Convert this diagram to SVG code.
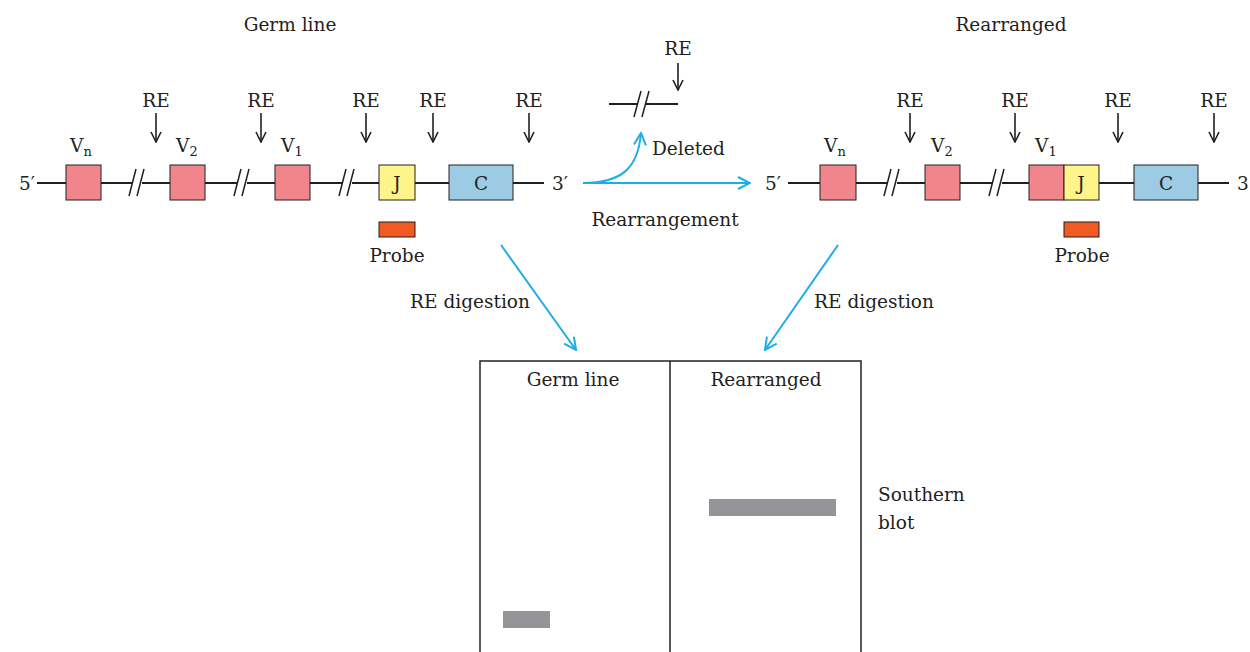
<svg xmlns="http://www.w3.org/2000/svg" width="1250" height="652" viewBox="0 0 1250 652">
  <style>
    text { font-family: "DejaVu Serif", "Liberation Serif", serif; font-size: 18.5px; fill: #231f20; }
    .sub { font-size: 13px; }
    .dna { stroke: #231f20; stroke-width: 2; fill: none; }
    .brk { stroke: #231f20; stroke-width: 1.5; fill: none; }
    .box { stroke: #231f20; stroke-width: 1; }
    .v { fill: #f0868c; }
    .j { fill: #fff48a; }
    .c { fill: #9dcbe3; }
    .probe { fill: #f15a22; stroke: #231f20; stroke-width: 1; }
    .re { stroke: #231f20; stroke-width: 1.6; fill: none; marker-end: url(#blackHead); }
    .blue { stroke: #1eaee6; stroke-width: 2; fill: none; marker-end: url(#blueHead); }
    .band { fill: #939598; }
    .frame { stroke: #231f20; stroke-width: 1.5; fill: none; }
  </style>
  <defs>
    <marker id="blackHead" viewBox="0 0 12 12" refX="11" refY="6" markerWidth="12" markerHeight="12" markerUnits="userSpaceOnUse" orient="auto">
      <path d="M1,1 L11,6 L1,11" fill="none" stroke="#231f20" stroke-width="1.6"/>
    </marker>
    <marker id="blueHead" viewBox="0 0 14 14" refX="13" refY="7" markerWidth="14" markerHeight="14" markerUnits="userSpaceOnUse" orient="auto">
      <path d="M1,1 L13,7 L1,13" fill="none" stroke="#1eaee6" stroke-width="2"/>
    </marker>
  </defs>

  <!-- titles -->
  <text x="290" y="31" text-anchor="middle">Germ line</text>
  <text x="1011" y="31" text-anchor="middle">Rearranged</text>

  <!-- germ-line locus -->
  <g id="germline">
    <text x="19" y="190">5′</text>
    <path class="dna" d="M37,183 H132 M142,183 H237 M247,183 H342 M352,183 H544"/>
    <path class="brk" d="M129,196 L136,169 M137,196 L144,169 M234,196 L241,169 M242,196 L249,169 M339,196 L346,169 M347,196 L354,169"/>
    <g id="g-vn"><rect class="box v" x="66" y="165" width="35" height="35"/><text x="70" y="152">V<tspan class="sub" dy="4">n</tspan></text></g>
    <g id="g-v2"><rect class="box v" x="170" y="165" width="35" height="35"/><text x="176" y="152">V<tspan class="sub" dy="4">2</tspan></text></g>
    <g id="g-v1"><rect class="box v" x="275" y="165" width="35" height="35"/><text x="281" y="152">V<tspan class="sub" dy="4">1</tspan></text></g>
    <g id="g-j"><rect class="box j" x="379" y="165" width="36" height="35"/><text x="397" y="190" text-anchor="middle">J</text></g>
    <g id="g-c"><rect class="box c" x="449" y="165" width="64" height="35"/><text x="481" y="190" text-anchor="middle">C</text></g>
    <text x="552" y="190">3′</text>
    <g id="g-probe"><rect class="probe" x="379" y="222" width="36" height="15"/><text x="397" y="262" text-anchor="middle">Probe</text></g>
    <g id="g-re">
      <text x="156" y="107" text-anchor="middle">RE</text>
      <text x="261" y="107" text-anchor="middle">RE</text>
      <text x="366" y="107" text-anchor="middle">RE</text>
      <text x="433" y="107" text-anchor="middle">RE</text>
      <text x="529" y="107" text-anchor="middle">RE</text>
    </g>
  </g>

  <!-- deleted fragment -->
  <g id="deleted">
    <path class="dna" d="M609,104 H637 M646,104 H678"/>
    <path class="brk" d="M634,117 L641,91 M642,117 L649,91"/>
    <text x="678" y="55" text-anchor="middle">RE</text>
    <text x="652" y="155">Deleted</text>
  </g>

  <text x="665" y="226" text-anchor="middle">Rearrangement</text>

  <!-- rearranged locus -->
  <g id="rearranged">
    <text x="765" y="190">5′</text>
    <path class="dna" d="M788,183 H887 M897,183 H992 M1002,183 H1229"/>
    <path class="brk" d="M884,196 L891,169 M892,196 L899,169 M989,196 L996,169 M997,196 L1004,169"/>
    <g id="r-vn"><rect class="box v" x="820" y="165" width="36" height="35"/><text x="824" y="152">V<tspan class="sub" dy="4">n</tspan></text></g>
    <g id="r-v2"><rect class="box v" x="925" y="165" width="35" height="35"/><text x="931" y="152">V<tspan class="sub" dy="4">2</tspan></text></g>
    <g id="r-v1j">
      <rect class="box v" x="1029" y="165" width="35" height="35"/>
      <rect class="box j" x="1064" y="165" width="35" height="35"/>
      <text x="1035" y="152">V<tspan class="sub" dy="4">1</tspan></text>
      <text x="1081" y="190" text-anchor="middle">J</text>
    </g>
    <g id="r-c"><rect class="box c" x="1134" y="165" width="64" height="35"/><text x="1166" y="190" text-anchor="middle">C</text></g>
    <text x="1237" y="190">3</text>
    <g id="r-probe"><rect class="probe" x="1064" y="222" width="35" height="15"/><text x="1082" y="262" text-anchor="middle">Probe</text></g>
    <g id="r-re">
      <text x="910" y="107" text-anchor="middle">RE</text>
      <text x="1015" y="107" text-anchor="middle">RE</text>
      <text x="1118" y="107" text-anchor="middle">RE</text>
      <text x="1214" y="107" text-anchor="middle">RE</text>
    </g>
  </g>

  <!-- digestion labels -->
  <text x="470" y="308" text-anchor="middle">RE digestion</text>
  <text x="874" y="308" text-anchor="middle">RE digestion</text>

  <!-- Southern blot -->
  <g id="blot">
    <path class="frame" d="M480,662 V361 H861 V662 M670,361 V662"/>
    <text x="573" y="386" text-anchor="middle">Germ line</text>
    <text x="766" y="386" text-anchor="middle">Rearranged</text>
    <rect class="band" x="503" y="611" width="47" height="17"/>
    <rect class="band" x="709" y="499" width="127" height="17"/>
  </g>
  <text x="878" y="501">Southern</text>
  <text x="878" y="529">blot</text>

  <!-- connectors -->
  <g id="connectors">
    <path class="re" d="M156,113 V142"/>
    <path class="re" d="M261,113 V142"/>
    <path class="re" d="M366,113 V142"/>
    <path class="re" d="M433,113 V142"/>
    <path class="re" d="M529,113 V142"/>
    <path class="re" d="M678,63 V90"/>
    <path class="re" d="M910,113 V142"/>
    <path class="re" d="M1015,113 V142"/>
    <path class="re" d="M1118,113 V142"/>
    <path class="re" d="M1214,113 V142"/>
    <path class="blue" d="M583,183 C622,183 638,168 641,133"/>
    <path class="blue" d="M583,183 H750"/>
    <path class="blue" d="M501,245 L576,350"/>
    <path class="blue" d="M838,245 L765,350"/>
  </g>
</svg>
